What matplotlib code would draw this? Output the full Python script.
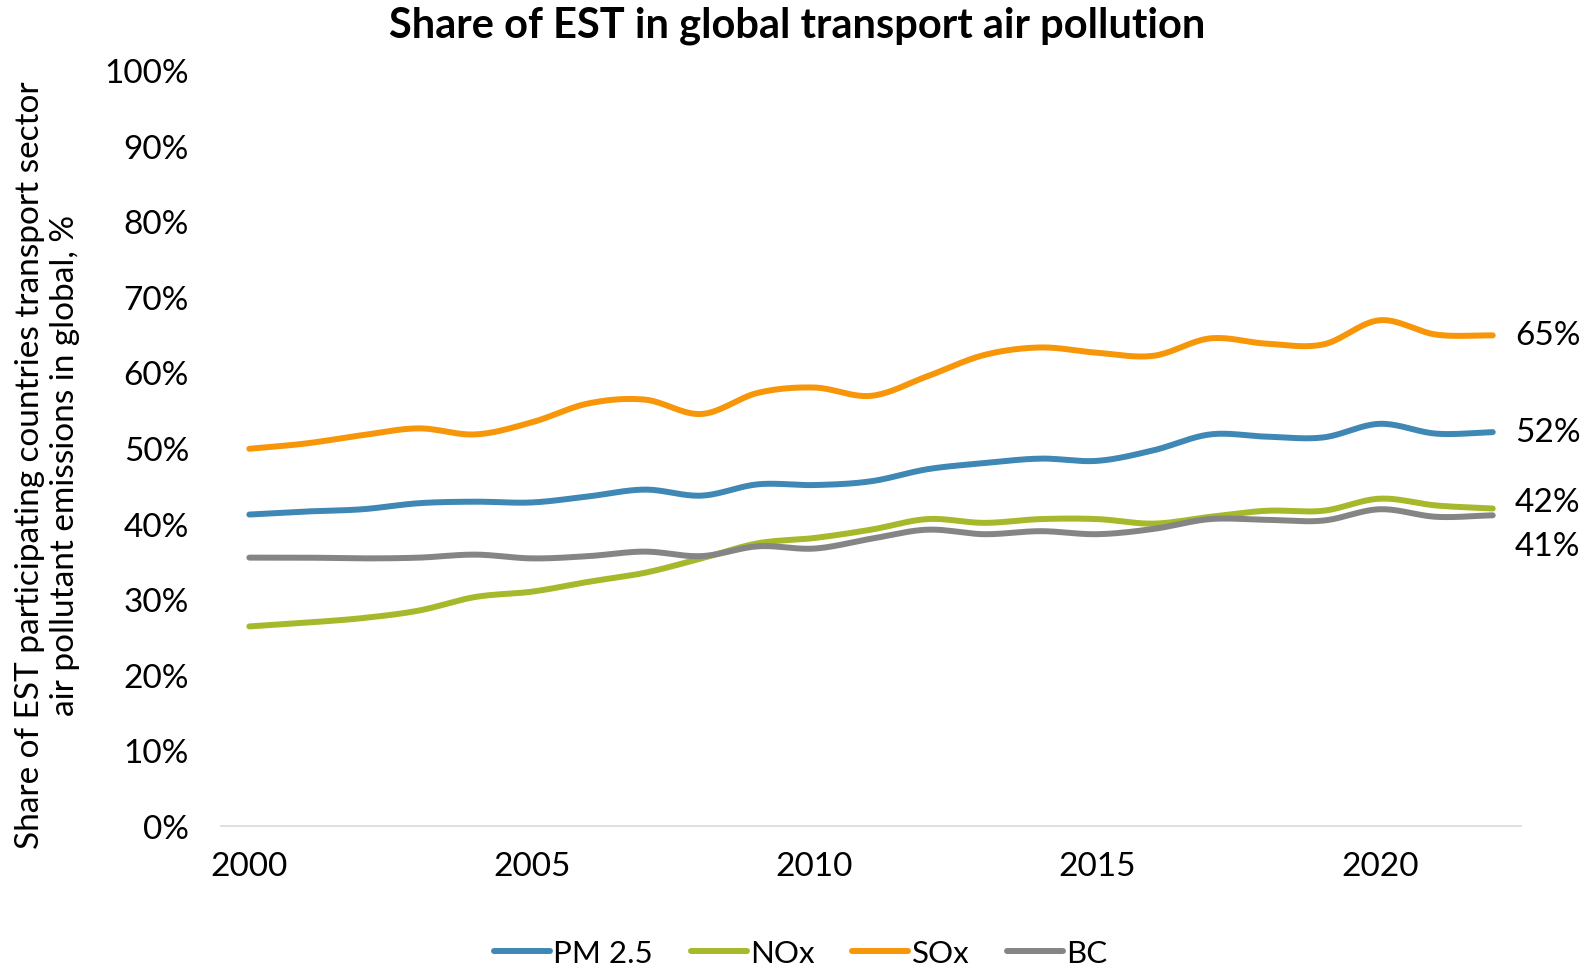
import numpy as np
import matplotlib.pyplot as plt
from matplotlib.lines import Line2D

plt.rcParams['font.family'] = ['Lato', 'DejaVu Sans']

years = np.arange(2000, 2023)
pm25 = [41.2, 41.6, 41.9, 42.7, 42.9, 42.8, 43.6, 44.5, 43.7, 45.2, 45.1, 45.6,
        47.2, 48.0, 48.6, 48.3, 49.7, 51.8, 51.5, 51.4, 53.2, 51.9, 52.1]
nox = [26.4, 26.9, 27.5, 28.5, 30.3, 31.0, 32.3, 33.5, 35.4, 37.4, 38.1, 39.2,
       40.6, 40.1, 40.6, 40.6, 40.0, 40.9, 41.7, 41.7, 43.3, 42.4, 42.0]
sox = [49.9, 50.6, 51.7, 52.6, 51.8, 53.4, 55.9, 56.4, 54.5, 57.3, 58.0, 56.9,
       59.5, 62.3, 63.3, 62.6, 62.2, 64.5, 63.8, 63.7, 66.9, 65.0, 64.9]
bc = [35.5, 35.5, 35.4, 35.5, 35.9, 35.4, 35.7, 36.3, 35.7, 37.0, 36.7, 38.0,
      39.2, 38.6, 39.0, 38.6, 39.3, 40.6, 40.5, 40.4, 41.9, 40.9, 41.1]

names = ['PM 2.5', 'NOx', 'SOx', 'BC']
colors = ['#3F88B5', '#A5B92A', '#F79608', '#858585']
end_labels = ['52%', '42%', '65%', '41%']
label_dy = [0, 5, 0, -22]  # points


def smooth(x, y, n=20):
    # Catmull-Rom spline through the points, like Excel's smoothed line
    x = np.asarray(x, float)
    y = np.asarray(y, float)
    px = np.concatenate([[2 * x[0] - x[1]], x, [2 * x[-1] - x[-2]]])
    py = np.concatenate([[2 * y[0] - y[1]], y, [2 * y[-1] - y[-2]]])
    t = np.linspace(0, 1, n, endpoint=False)
    xs, ys = [], []
    for i in range(1, len(px) - 2):
        for p, out in ((px, xs), (py, ys)):
            p0, p1, p2, p3 = p[i - 1], p[i], p[i + 1], p[i + 2]
            out.append(0.5 * (2 * p1 + (-p0 + p2) * t
                              + (2 * p0 - 5 * p1 + 4 * p2 - p3) * t ** 2
                              + (-p0 + 3 * p1 - 3 * p2 + p3) * t ** 3))
    xs = np.concatenate(xs + [[x[-1]]])
    ys = np.concatenate(ys + [[y[-1]]])
    return xs, ys


fig = plt.figure(figsize=(15.95, 9.7), dpi=100)
ax = fig.add_axes([0.1386, 0.1474, 0.815, 0.7794])

for vals, c, lab, dy in zip([pm25, nox, sox, bc], colors, end_labels, label_dy):
    sx, sy = smooth(years, vals)
    ax.plot(sx, sy, color=c, lw=4.3, solid_capstyle='round')
    ax.annotate(lab, (years[-1], vals[-1]), xytext=(16, dy), textcoords='offset points',
                va='center', ha='left', fontsize=24, annotation_clip=False)

ax.set_xlim(1999.5, 2022.5)
ax.set_ylim(0, 100)
ax.set_yticks(np.arange(0, 101, 10))
ax.set_yticklabels([f'{v}%' for v in range(0, 101, 10)])
ax.set_xticks([2000, 2005, 2010, 2015, 2020])
ax.tick_params(axis='both', length=0, labelsize=24)
ax.tick_params(axis='y', pad=23)
ax.tick_params(axis='x', pad=18)
for s in ['top', 'right', 'left']:
    ax.spines[s].set_visible(False)
ax.spines['bottom'].set_color('#D9D9D9')
ax.spines['bottom'].set_linewidth(1.2)

fig.text(0.5, 0.973, 'Share of EST in global transport air pollution',
         ha='center', va='center', fontsize=30, fontweight='bold')
fig.text(0.030, 0.52, 'Share of EST participating countries transport sector\n'
         'air pollutant emissions in global, %',
         rotation=90, ha='center', va='center', fontsize=24, linespacing=1.22)

handles = [Line2D([0], [0], color=c, lw=4.3, solid_capstyle='round') for c in colors]
fig.legend(handles, names, loc='center', bbox_to_anchor=(0.502, 0.017), ncol=4,
           frameon=False, fontsize=22.5, handlelength=1.8, handletextpad=0.1,
           columnspacing=1.2)

fig.savefig('out.png', dpi=100)
